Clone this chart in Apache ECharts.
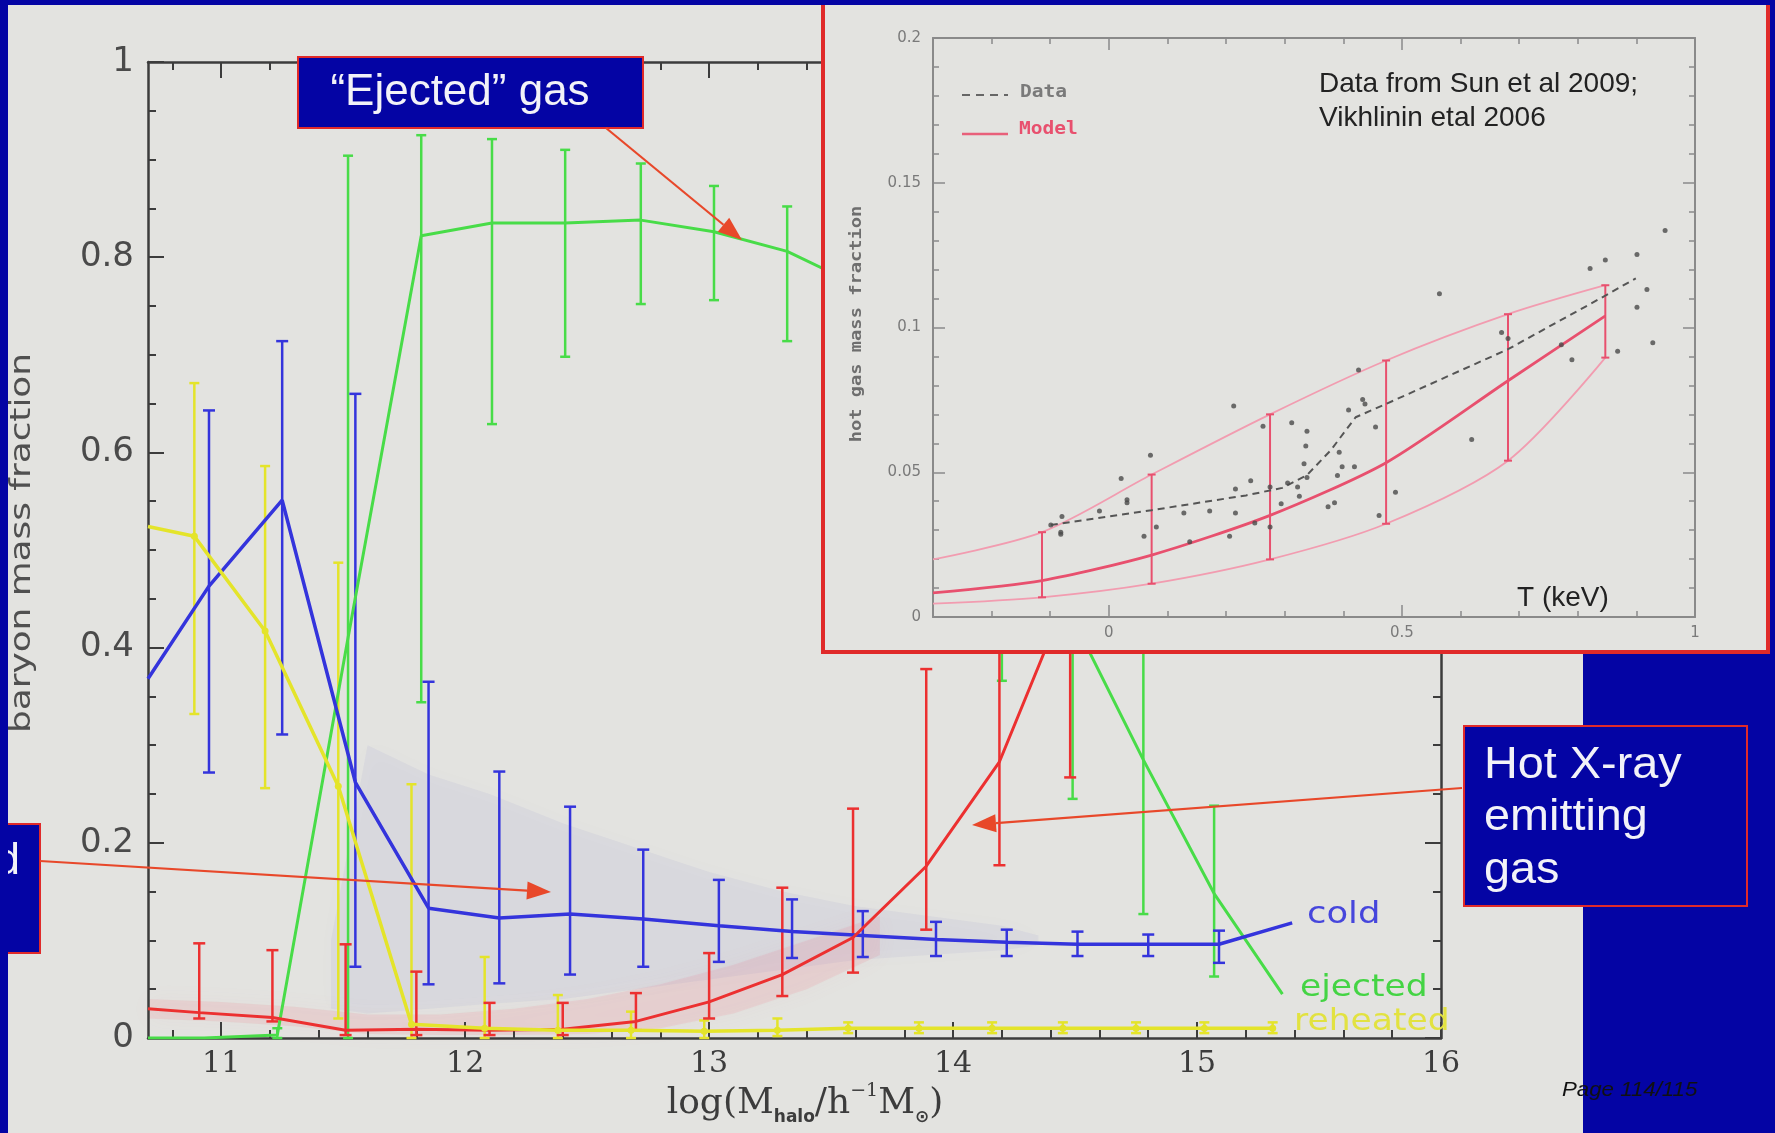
<!DOCTYPE html>
<html>
<head>
<meta charset="utf-8">
<script src="https://cdn.jsdelivr.net/npm/echarts@6/dist/echarts.min.js"></script>
<style>
  html, body { margin: 0; padding: 0; background: #e3e3e0; }
  #chart { width: 1775px; height: 1133px; }
</style>
</head>
<body>
<div id="chart"></div>
<script>
// ---- Baryon mass fractions per halo mass bin (log M_halo / h^-1 M_sun) ----
const coldX  = [10.70, 10.95, 11.25, 11.55, 11.85, 12.14, 12.43, 12.73, 13.04, 13.34, 13.63, 13.93, 14.22, 14.51, 14.80, 15.09, 15.39];
const coldY  = [0.368, 0.463, 0.551, 0.262, 0.133, 0.123, 0.127, 0.122, 0.115, 0.109, 0.105, 0.101, 0.098, 0.096, 0.096, 0.096, 0.118];
const coldLo = [null, 0.272, 0.311, 0.073, 0.055, 0.056, 0.065, 0.073, 0.078, 0.082, 0.083, 0.084, 0.084, 0.084, 0.084, 0.077, null];
const coldHi = [null, 0.643, 0.714, 0.660, 0.365, 0.273, 0.237, 0.193, 0.162, 0.142, 0.130, 0.119, 0.111, 0.109, 0.106, 0.110, null];

const hotX  = [10.70, 10.91, 11.21, 11.51, 11.80, 12.10, 12.40, 12.70, 13.00, 13.30, 13.59, 13.89, 14.19, 14.48];
const hotY  = [0.030, 0.026, 0.021, 0.008, 0.009, 0.008, 0.009, 0.017, 0.037, 0.065, 0.103, 0.176, 0.283, 0.460];
const hotLo = [null, 0.020, 0.017, 0.003, 0.003, 0.003, 0.003, 0.008, 0.020, 0.043, 0.067, 0.111, 0.177, 0.267];
const hotHi = [null, 0.097, 0.090, 0.096, 0.068, 0.036, 0.036, 0.046, 0.087, 0.154, 0.235, 0.378, 0.550, 0.650];

const ejectedX  = [10.70, 10.93, 11.23, 11.52, 11.82, 12.11, 12.41, 12.72, 13.02, 13.32, 13.62, 13.91, 14.20, 14.49, 14.78, 15.07, 15.35];
const ejectedY  = [0.000, 0.000, 0.003, 0.410, 0.822, 0.835, 0.835, 0.838, 0.826, 0.806, 0.770, 0.720, 0.600, 0.430, 0.285, 0.148, 0.045];
const ejectedLo = [null, null, 0.000, 0.000, 0.344, 0.629, 0.698, 0.752, 0.756, 0.714, null, null, 0.366, 0.245, 0.127, 0.063, null];
const ejectedHi = [null, null, 0.010, 0.904, 0.925, 0.921, 0.910, 0.896, 0.873, 0.852, null, null, 0.800, 0.620, 0.450, 0.238, null];

const reheatedX  = [10.70, 10.89, 11.18, 11.48, 11.78, 12.08, 12.38, 12.68, 12.98, 13.28, 13.57, 13.86, 14.16, 14.45, 14.75, 15.03, 15.31];
const reheatedY  = [0.524, 0.514, 0.417, 0.258, 0.014, 0.010, 0.008, 0.008, 0.007, 0.008, 0.010, 0.010, 0.010, 0.010, 0.010, 0.010, 0.010];
const reheatedLo = [null, 0.332, 0.256, 0.020, 0.000, 0.000, 0.000, 0.000, 0.000, 0.002, 0.005, 0.005, 0.005, 0.005, 0.005, 0.005, 0.005];
const reheatedHi = [null, 0.671, 0.586, 0.487, 0.260, 0.083, 0.044, 0.027, 0.018, 0.020, 0.016, 0.016, 0.016, 0.016, 0.016, 0.016, 0.016];

// Extent of the individual-halo point clouds behind the medians
const coldCloudX  = [11.45, 11.60, 11.85, 12.10, 12.40, 12.70, 13.00, 13.30, 13.60, 13.90, 14.20, 14.35];
const coldCloudLo = [0.030, 0.025, 0.030, 0.035, 0.040, 0.050, 0.060, 0.070, 0.080, 0.085, 0.090, 0.095];
const coldCloudHi = [0.100, 0.300, 0.270, 0.250, 0.220, 0.195, 0.170, 0.150, 0.135, 0.125, 0.115, 0.105];
const hotCloudX  = [10.70, 11.00, 11.30, 11.60, 11.90, 12.20, 12.50, 12.80, 13.10, 13.40, 13.70];
const hotCloudLo = [0.020, 0.017, 0.012, 0.004, 0.003, 0.003, 0.004, 0.010, 0.025, 0.050, 0.085];
const hotCloudHi = [0.040, 0.037, 0.032, 0.024, 0.024, 0.030, 0.040, 0.055, 0.075, 0.100, 0.125];

const massTicks = [11, 12, 13, 14, 15, 16];
const massMinorTicks = [10.8, 11.2, 11.4, 11.6, 11.8, 12.2, 12.4, 12.6, 12.8, 13.2, 13.4, 13.6, 13.8,
                        14.2, 14.4, 14.6, 14.8, 15.2, 15.4, 15.6, 15.8];

// ---- Hot gas fraction vs temperature (log T / keV) ----
const modelT  = [-0.300, -0.114, 0.073, 0.275, 0.473, 0.681, 0.847];
const modelF  = [0.0083, 0.0126, 0.0214, 0.0351, 0.0533, 0.0816, 0.1040];
const modelHi = [0.0199, 0.0293, 0.0492, 0.0700, 0.0886, 0.1046, 0.1146];
const modelLo = [0.0046, 0.0068, 0.0115, 0.0199, 0.0322, 0.0540, 0.0896];

const dataT = [-0.099, 0.073, 0.234, 0.296, 0.338, 0.379, 0.421, 0.473, 0.681, 0.847, 0.899];
const dataF = [0.0318, 0.0369, 0.0420, 0.0446, 0.0490, 0.0577, 0.0690, 0.0736, 0.0925, 0.1110, 0.1170];

const clusterT = [-0.099, -0.080, -0.082, -0.082, -0.016, 0.021, 0.031, 0.031, 0.060, 0.071, 0.081, 0.128, 0.138,
                  0.172, 0.206, 0.213, 0.216, 0.216, 0.242, 0.249, 0.263, 0.275, 0.275, 0.294, 0.305, 0.312,
                  0.322, 0.325, 0.333, 0.336, 0.338, 0.338, 0.374, 0.385, 0.390, 0.393, 0.398, 0.419, 0.409,
                  0.426, 0.433, 0.437, 0.455, 0.461, 0.489, 0.564, 0.619, 0.670, 0.681, 0.772, 0.790, 0.821,
                  0.847, 0.868, 0.901, 0.901, 0.918, 0.928, 0.949];
const clusterF = [0.0318, 0.0347, 0.0293, 0.0286, 0.0366, 0.0478, 0.0405, 0.0395, 0.0279, 0.0559, 0.0311, 0.0359, 0.0260,
                  0.0366, 0.0279, 0.0729, 0.0442, 0.0359, 0.0471, 0.0325, 0.0659, 0.0449, 0.0311, 0.0391, 0.0463, 0.0671,
                  0.0449, 0.0417, 0.0529, 0.0591, 0.0642, 0.0482, 0.0381, 0.0395, 0.0489, 0.0569, 0.0519, 0.0519, 0.0715,
                  0.0853, 0.0751, 0.0736, 0.0656, 0.0351, 0.0431, 0.1117, 0.0613, 0.0983, 0.0962, 0.0940, 0.0889, 0.1204,
                  0.1233, 0.0918, 0.1252, 0.1070, 0.1131, 0.0947, 0.1335];

const tempTicks = [0, 0.5, 1];
const tempMinorTicks = [-0.2, -0.1, 0.1, 0.2, 0.3, 0.4, 0.6, 0.7, 0.8, 0.9];

// ---- colours ----
const BG = '#e3e3e0';
const NAVY = '#0404a4';
const FRAME_RED = '#e02a2a';
const ARROW = '#e8482a';
const C_COLD = '#3434dc', C_HOT = '#ec3030', C_EJ = '#48dc48', C_RH = '#e4e42a';
const AXIS_MAIN = '#3c3c3c', AXIS_INSET = '#8a8a8a';

// ---- helpers ----
const pairs = (xs, ys) => xs.map((x, i) => [x, ys[i]]);
const barRows = (xs, lo, hi) => xs.map((x, i) => [x, lo[i], hi[i]]).filter(r => r[1] !== null && r[2] !== null);

function barRenderer(color, width, cap) {
  return function (params, api) {
    const x = api.value(0);
    const a = api.coord([x, api.value(1)]);
    const b = api.coord([x, api.value(2)]);
    const st = () => ({ stroke: color, lineWidth: width });
    return {
      type: 'group',
      children: [
        { type: 'line', shape: { x1: a[0], y1: a[1], x2: b[0], y2: b[1] }, style: st() },
        { type: 'line', shape: { x1: a[0] - cap, y1: a[1], x2: a[0] + cap, y2: a[1] }, style: st() },
        { type: 'line', shape: { x1: b[0] - cap, y1: b[1], x2: b[0] + cap, y2: b[1] }, style: st() }
      ]
    };
  };
}

function bandRenderer(xs, lo, hi, fill, glow) {
  return function (params, api) {
    if (params.dataIndex !== 0) return null;
    const pts = [];
    for (let i = 0; i < xs.length; i++) pts.push(api.coord([xs[i], hi[i]]));
    for (let i = xs.length - 1; i >= 0; i--) pts.push(api.coord([xs[i], lo[i]]));
    return { type: 'polygon', shape: { points: pts },
             style: { fill: fill, shadowBlur: 22, shadowColor: glow } };
  };
}

function band(xs, lo, hi, fill, glow, xi, yi) {
  return { type: 'custom', xAxisIndex: xi, yAxisIndex: yi, z: 1, silent: true,
           data: barRows(xs, lo, hi), encode: { x: 0, y: [1, 2] },
           renderItem: bandRenderer(xs, lo, hi, fill, glow) };
}
function bars(xs, lo, hi, color, width, cap, xi, yi, z) {
  return { type: 'custom', xAxisIndex: xi, yAxisIndex: yi, z: z, silent: true,
           data: barRows(xs, lo, hi), encode: { x: 0, y: [1, 2] },
           renderItem: barRenderer(color, width, cap) };
}
function line(xs, ys, color, width, xi, yi, z, extra) {
  return Object.assign({ type: 'line', xAxisIndex: xi, yAxisIndex: yi, z: z, silent: true,
           data: pairs(xs, ys), showSymbol: false, symbol: 'none',
           lineStyle: { color: color, width: width }, itemStyle: { color: color } }, extra || {});
}

function arrow(x1, y1, x2, y2, len, half) {
  const ang = Math.atan2(y2 - y1, x2 - x1);
  const bx = x2 - len * Math.cos(ang), by = y2 - len * Math.sin(ang);
  const nx = -Math.sin(ang) * half, ny = Math.cos(ang) * half;
  return [
    { type: 'line', z: 30, shape: { x1: x1, y1: y1, x2: bx, y2: by }, style: { stroke: ARROW, lineWidth: 2.2 } },
    { type: 'polygon', z: 30, shape: { points: [[x2, y2], [bx + nx, by + ny], [bx - nx, by - ny]] }, style: { fill: ARROW } }
  ];
}

// ---- axes ----
function massAxis(pos, ticks, len, showLine, showLabel) {
  return {
    type: 'value', gridIndex: 0, min: 10.7, max: 16, position: pos, z: 1,
    axisLine: { show: showLine, onZero: false, lineStyle: { color: AXIS_MAIN, width: 2.5 } },
    axisTick: { show: true, inside: true, length: len, customValues: ticks, lineStyle: { color: AXIS_MAIN, width: 2 } },
    axisLabel: showLabel ? { show: true, customValues: ticks, color: AXIS_MAIN, fontFamily: 'DejaVu Serif', fontSize: 30, margin: 11 }
                         : { show: false },
    splitLine: { show: false }
  };
}
function tempAxis(pos, ticks, len, showLine, showLabel) {
  return {
    type: 'value', gridIndex: 1, min: -0.3, max: 1, position: pos, z: 12,
    axisLine: { show: showLine, onZero: false, lineStyle: { color: AXIS_INSET, width: 2 } },
    axisTick: { show: true, inside: true, length: len, customValues: ticks, lineStyle: { color: AXIS_INSET, width: 1.5 } },
    axisLabel: showLabel ? { show: true, customValues: ticks, color: '#7a7a7a', fontFamily: 'DejaVu Sans', fontSize: 15, margin: 9 }
                         : { show: false },
    splitLine: { show: false }
  };
}
function fractionAxis(pos, showLabel) {
  return {
    type: 'value', gridIndex: 0, min: 0, max: 1, interval: 0.2, position: pos, z: 1,
    axisLine: { show: true, onZero: false, lineStyle: { color: AXIS_MAIN, width: 2.5 } },
    axisTick: { show: true, inside: true, length: 16, lineStyle: { color: AXIS_MAIN, width: 2 } },
    minorTick: { show: true, splitNumber: 4, length: 8, lineStyle: { color: AXIS_MAIN, width: 2 } },
    axisLabel: showLabel ? { show: true, color: '#4a4a4a', fontFamily: 'DejaVu Sans', fontSize: 34, margin: 14 } : { show: false },
    splitLine: { show: false }, minorSplitLine: { show: false }
  };
}
function gasAxis(pos, showLabel) {
  return {
    type: 'value', gridIndex: 1, min: 0, max: 0.2, interval: 0.05, position: pos, z: 12,
    axisLine: { show: true, onZero: false, lineStyle: { color: AXIS_INSET, width: 2 } },
    axisTick: { show: true, inside: true, length: 12, lineStyle: { color: AXIS_INSET, width: 1.5 } },
    minorTick: { show: true, splitNumber: 5, length: 6, lineStyle: { color: AXIS_INSET, width: 1.5 } },
    axisLabel: showLabel ? { show: true, color: '#7a7a7a', fontFamily: 'DejaVu Sans', fontSize: 15, margin: 12 } : { show: false },
    splitLine: { show: false }, minorSplitLine: { show: false }
  };
}

const series = [
  // point clouds
  band(hotCloudX, hotCloudLo, hotCloudHi, 'rgba(240,110,130,0.14)', 'rgba(240,110,130,0.30)', 0, 0),
  band(coldCloudX, coldCloudLo, coldCloudHi, 'rgba(120,110,210,0.08)', 'rgba(120,110,210,0.20)', 0, 0),
  // error bars
  bars(ejectedX, ejectedLo, ejectedHi, C_EJ, 2.5, 5, 0, 0, 3),
  bars(reheatedX, reheatedLo, reheatedHi, C_RH, 2.5, 5, 0, 0, 3),
  bars(coldX, coldLo, coldHi, C_COLD, 2.5, 6, 0, 0, 3),
  bars(hotX, hotLo, hotHi, C_HOT, 2.5, 6, 0, 0, 3),
  // median curves
  line(ejectedX, ejectedY, C_EJ, 3, 0, 0, 4),
  line(coldX, coldY, C_COLD, 3.5, 0, 0, 5),
  line(hotX, hotY, C_HOT, 3, 0, 0, 6),
  line(reheatedX, reheatedY, C_RH, 3.5, 0, 0, 7, {
    symbol: 'circle', showSymbol: true, symbolSize: 7,
    data: reheatedX.map((x, i) => i === 0 ? { value: [x, reheatedY[i]], symbol: 'none' } : [x, reheatedY[i]])
  }),

  // inset: model envelope, model median with bars, data trend and clusters
  line(modelT, modelHi, '#f29cb0', 1.8, 4, 2, 13, { smooth: 0.3 }),
  line(modelT, modelLo, '#f29cb0', 1.8, 4, 2, 13, { smooth: 0.3 }),
  bars(modelT.slice(1), modelLo.slice(1), modelHi.slice(1), '#e8506e', 2, 4, 4, 2, 14),
  line(modelT, modelF, '#e8506e', 2.8, 4, 2, 15, { smooth: 0.25 }),
  line(dataT, dataF, '#555555', 2, 4, 2, 15, { lineStyle: { color: '#555555', width: 2, type: [7, 5] } }),
  { type: 'scatter', xAxisIndex: 4, yAxisIndex: 2, z: 16, silent: true, symbol: 'circle', symbolSize: 5,
    itemStyle: { color: '#4a4a4a' }, data: pairs(clusterT, clusterF) }
];

const graphics = [
  // slide frame
  { type: 'rect', z: 40, shape: { x: 0, y: 0, width: 8, height: 1133 }, style: { fill: NAVY } },
  { type: 'rect', z: 40, shape: { x: 0, y: 0, width: 1775, height: 5 }, style: { fill: NAVY } },
  { type: 'rect', z: 8, shape: { x: 1583, y: 654, width: 192, height: 479 }, style: { fill: NAVY } },
  { type: 'rect', z: 8, shape: { x: 1770, y: 0, width: 5, height: 1133 }, style: { fill: NAVY } },

  // inset panel
  { type: 'rect', z: 10, shape: { x: 823, y: -6, width: 945, height: 658 },
    style: { fill: BG, stroke: FRAME_RED, lineWidth: 4 } },

  // axis titles
  { type: 'text', z: 20, x: 23, y: 543, rotation: Math.PI / 2, scaleX: 1.28,
    style: { text: 'baryon mass fraction', fontFamily: 'DejaVu Sans', fontSize: 28, fill: '#505050',
             textAlign: 'center', textVerticalAlign: 'middle' } },
  { type: 'text', z: 20, x: 805, y: 1104,
    style: { text: '{a|log(M}{s|halo}{a|/h}{p|−1}{a|M}{s|⊙}{a|)}', fill: '#3c3c3c',
             textAlign: 'center', textVerticalAlign: 'middle',
             rich: {
               a: { fontFamily: 'DejaVu Serif', fontSize: 36, lineHeight: 44, fill: '#3c3c3c' },
               s: { fontFamily: 'DejaVu Sans', fontSize: 17, fontWeight: 'bold', verticalAlign: 'bottom', fill: '#3c3c3c' },
               p: { fontFamily: 'DejaVu Serif', fontSize: 19, verticalAlign: 'top', fill: '#3c3c3c' }
             } } },

  // curve names
  { type: 'text', z: 20, x: 1307, y: 915, scaleX: 1.18, style: { text: 'cold', fontFamily: 'DejaVu Sans', fontSize: 30, fill: '#4646dc', textVerticalAlign: 'middle' } },
  { type: 'text', z: 20, x: 1300, y: 988, scaleX: 1.15, style: { text: 'ejected', fontFamily: 'DejaVu Sans', fontSize: 30, fill: '#44d444', textVerticalAlign: 'middle' } },
  { type: 'text', z: 20, x: 1294, y: 1022, scaleX: 1.15, style: { text: 'reheated', fontFamily: 'DejaVu Sans', fontSize: 30, fill: '#e2e240', textVerticalAlign: 'middle' } },

  // inset labels
  { type: 'text', z: 20, x: 857, y: 324, rotation: Math.PI / 2, scaleX: 1.17,
    style: { text: 'hot gas mass fraction', fontFamily: 'DejaVu Sans Mono', fontWeight: 'bold', fontSize: 16, fill: '#6e6e6e',
             textAlign: 'center', textVerticalAlign: 'middle' } },
  { type: 'line', z: 20, shape: { x1: 962, y1: 95, x2: 1008, y2: 95 }, style: { stroke: '#666666', lineWidth: 2, lineDash: [8, 6] } },
  { type: 'text', z: 20, x: 1020, y: 93, scaleX: 1.15,
    style: { text: 'Data', fontFamily: 'DejaVu Sans Mono', fontWeight: 'bold', fontSize: 17, fill: '#7a7a7a', textVerticalAlign: 'middle' } },
  { type: 'line', z: 20, shape: { x1: 962, y1: 134, x2: 1008, y2: 134 }, style: { stroke: '#e8607a', lineWidth: 2.5 } },
  { type: 'text', z: 20, x: 1019, y: 130, scaleX: 1.15,
    style: { text: 'Model', fontFamily: 'DejaVu Sans Mono', fontWeight: 'bold', fontSize: 17, fill: '#e8506e', textVerticalAlign: 'middle' } },
  { type: 'text', z: 20, x: 1319, y: 84,
    style: { text: 'Data from Sun et al 2009;', fontFamily: 'Liberation Sans', fontSize: 28, fill: '#222222', textVerticalAlign: 'middle' } },
  { type: 'text', z: 20, x: 1319, y: 118,
    style: { text: 'Vikhlinin etal 2006', fontFamily: 'Liberation Sans', fontSize: 28, fill: '#222222', textVerticalAlign: 'middle' } },
  { type: 'text', z: 20, x: 1517, y: 598,
    style: { text: 'T (keV)', fontFamily: 'Liberation Sans', fontSize: 28, fill: '#222222', textVerticalAlign: 'middle' } },

  // call-out boxes
  { type: 'rect', z: 25, shape: { x: 298, y: 57, width: 345, height: 71 }, style: { fill: NAVY, stroke: FRAME_RED, lineWidth: 2 } },
  { type: 'text', z: 26, x: 460, y: 93,
    style: { text: '“Ejected” gas', fontFamily: 'Liberation Sans', fontSize: 44, fill: '#f2f2f8',
             textAlign: 'center', textVerticalAlign: 'middle' } },
  { type: 'rect', z: 25, shape: { x: 1464, y: 726, width: 283, height: 180 }, style: { fill: NAVY, stroke: FRAME_RED, lineWidth: 2 } },
  { type: 'text', z: 26, x: 1484, y: 766, scaleX: 1.04, style: { text: 'Hot X-ray', fontFamily: 'Liberation Sans', fontSize: 45, fill: '#f2f2f8', textVerticalAlign: 'middle' } },
  { type: 'text', z: 26, x: 1484, y: 818, scaleX: 1.04, style: { text: 'emitting', fontFamily: 'Liberation Sans', fontSize: 45, fill: '#f2f2f8', textVerticalAlign: 'middle' } },
  { type: 'text', z: 26, x: 1484, y: 871, scaleX: 1.04, style: { text: 'gas', fontFamily: 'Liberation Sans', fontSize: 45, fill: '#f2f2f8', textVerticalAlign: 'middle' } },
  { type: 'rect', z: 25, shape: { x: -6, y: 824, width: 46, height: 129 }, style: { fill: NAVY, stroke: FRAME_RED, lineWidth: 2 } },
  { type: 'text', z: 26, x: 20, y: 862, style: { text: 'd', fontFamily: 'Liberation Sans', fontSize: 44, fill: '#f2f2f8', textAlign: 'right', textVerticalAlign: 'middle' } },

  // footer
  { type: 'text', z: 45, x: 1562, y: 1090, scaleX: 1.06,
    style: { text: 'Page 114/115', fontFamily: 'Liberation Sans', fontStyle: 'italic', fontSize: 21, fill: '#111111', textVerticalAlign: 'middle' } }
]
  .concat(arrow(606, 128, 742, 240, 24, 9))
  .concat(arrow(40, 861, 551, 892, 24, 9))
  .concat(arrow(1462, 788, 972, 825, 24, 9));

const option = {
  backgroundColor: BG,
  animation: false,
  grid: [
    { left: 148, top: 62, width: 1293, height: 976 },
    { left: 933, top: 38, width: 762, height: 579 }
  ],
  xAxis: [
    massAxis('bottom', massTicks, 16, true, true),
    massAxis('bottom', massMinorTicks, 8, false, false),
    massAxis('top', massTicks, 16, true, false),
    massAxis('top', massMinorTicks, 8, false, false),
    tempAxis('bottom', tempTicks, 12, true, true),
    tempAxis('bottom', tempMinorTicks, 6, false, false),
    tempAxis('top', tempTicks, 12, true, false),
    tempAxis('top', tempMinorTicks, 6, false, false)
  ],
  yAxis: [
    fractionAxis('left', true),
    fractionAxis('right', false),
    gasAxis('left', true),
    gasAxis('right', false)
  ],
  series: series,
  graphic: { elements: graphics }
};

const chart = echarts.init(document.getElementById('chart'), null, { renderer: 'canvas' });
chart.setOption(option);
</script>
</body>
</html>
